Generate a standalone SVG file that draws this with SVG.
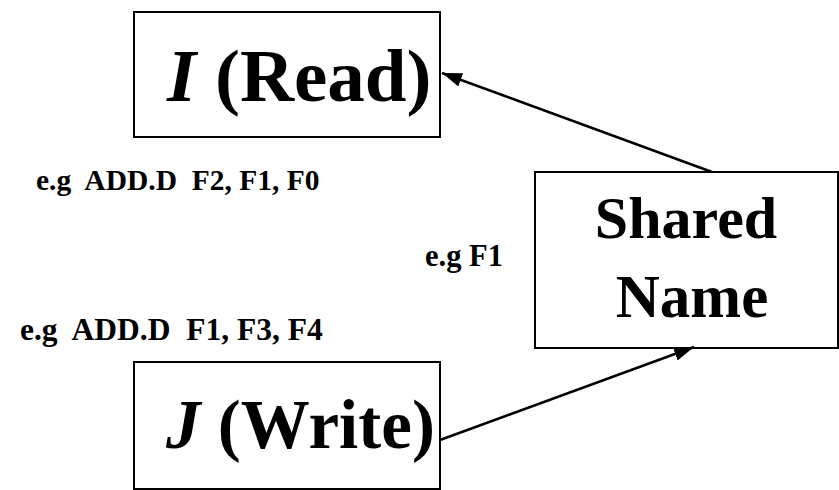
<svg xmlns="http://www.w3.org/2000/svg" width="839" height="490" viewBox="0 0 839 490">
<style>
.box{fill:#fff;stroke:#000;stroke-width:2}
.big{font-family:"Liberation Serif","Times New Roman",serif;font-weight:bold;fill:#000}
.sm{font-family:"Liberation Serif","Times New Roman",serif;font-weight:bold;fill:#000;white-space:pre}
.conn{stroke:#000;stroke-width:2.5;fill:none}
</style>
<defs>
<marker id="arr" viewBox="0 0 20 14" refX="20" refY="7" markerWidth="20" markerHeight="14" markerUnits="userSpaceOnUse" orient="auto">
<path d="M0,0 L20,7 L0,14 z" fill="#000"/>
</marker>
</defs>
<g id="node-read">
<rect class="box" x="134" y="12" width="306" height="125"/>
<text class="big" x="167" y="101" font-size="75"><tspan font-style="italic">I</tspan> (Read)</text>
</g>
<g id="node-shared">
<rect class="box" x="535" y="172" width="303" height="176"/>
<text class="big" x="686" y="238" text-anchor="middle" font-size="60">Shared</text>
<text class="big" x="692" y="317" text-anchor="middle" font-size="61">Name</text>
</g>
<g id="node-write">
<rect class="box" x="134" y="362" width="306" height="127"/>
<text class="big" x="166" y="448" font-size="69"><tspan font-style="italic">J</tspan> (Write)</text>
</g>
<g id="labels">
<text class="sm" x="36" y="190" font-size="29.5">e.g  ADD.D  F2, F1, F0</text>
<text class="sm" x="425" y="266" font-size="30.5">e.g F1</text>
<text class="sm" x="20" y="340" font-size="31.5">e.g  ADD.D  F1, F3, F4</text>
</g>
<g id="connectors">
<line class="conn" x1="712" y1="172" x2="442" y2="73" marker-end="url(#arr)"/>
<line class="conn" x1="440" y1="440" x2="694" y2="347" marker-end="url(#arr)"/>
</g>
</svg>
